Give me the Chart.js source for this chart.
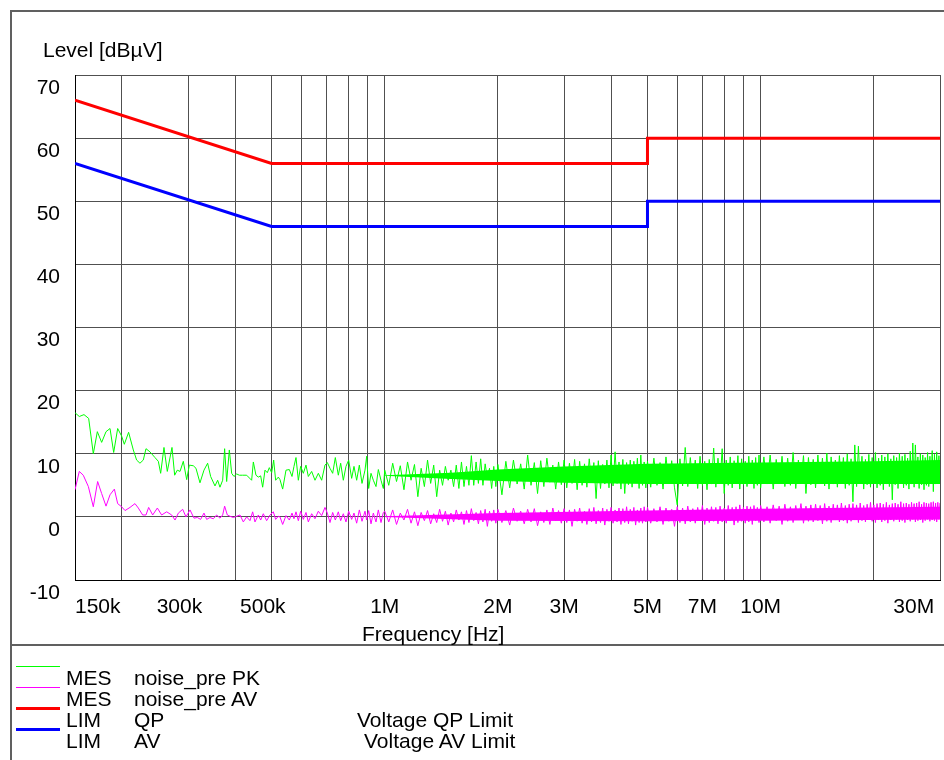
<!DOCTYPE html>
<html>
<head>
<meta charset="utf-8">
<script src="https://cdn.jsdelivr.net/npm/chart.js@4.4.1/dist/chart.umd.min.js"></script>
<style>
  body { margin: 0; background: #fff; }
  #wrap { position: relative; width: 944px; height: 760px; overflow: hidden; background: #fff;
          font-family: 'Liberation Sans', Arial, sans-serif; font-size: 21px; line-height: 21px; color: #000; }
  #wrap canvas { position: absolute; left: 0; top: 0; }
  .rule { position: absolute; background: #606060; }
  .txt { position: absolute; white-space: pre; }
  .key { position: absolute; left: 16px; width: 44px; }
</style>
</head>
<body>
<div id="wrap">
  <!-- canvas is a bit wider than the page: the x labels ask for 15px right padding -->
  <canvas id="chartEmi" width="955" height="760"></canvas>
  <div class="rule" style="left:10px;top:10px;width:934px;height:2px"></div>
  <div class="rule" style="left:10px;top:10px;width:2px;height:750px"></div>
  <div class="rule" style="left:10px;top:644px;width:934px;height:2px"></div>

  <div class="txt" style="left:43px;top:39px">Level [dBµV]</div>
  <div class="txt" style="left:362px;top:623px">Frequency [Hz]</div>

  <div class="key" style="top:666px;height:1px;background:#00ff00"></div>
  <div class="key" style="top:687px;height:1px;background:#ff00ff"></div>
  <div class="key" style="top:707px;height:3px;background:#ff0000"></div>
  <div class="key" style="top:728px;height:3px;background:#0000ff"></div>

  <div class="txt" style="left:66px;top:667px">MES</div>
  <div class="txt" style="left:134px;top:667px">noise_pre PK</div>
  <div class="txt" style="left:66px;top:688px">MES</div>
  <div class="txt" style="left:134px;top:688px">noise_pre AV</div>
  <div class="txt" style="left:66px;top:709px">LIM</div>
  <div class="txt" style="left:134px;top:709px">QP</div>
  <div class="txt" style="left:357px;top:709px">Voltage QP Limit</div>
  <div class="txt" style="left:66px;top:730px">LIM</div>
  <div class="txt" style="left:134px;top:730px">AV</div>
  <div class="txt" style="left:364px;top:730px">Voltage AV Limit</div>
</div>

<script>
// limit lines (Hz / dBµV)
const limitFreq = [150e3, 500e3, 5e6, 5e6, 30e6];
const qpLimit = [66, 56, 56, 60, 60];
const avLimit = [56, 46, 46, 50, 50];

// x axis: grid lines and labelled ticks
const gridFreq = [150e3, 200e3, 300e3, 400e3, 500e3, 600e3, 700e3, 800e3, 900e3,
  1e6, 2e6, 3e6, 4e6, 5e6, 6e6, 7e6, 8e6, 9e6, 10e6, 20e6, 30e6];
const tickFreq = [150e3, 300e3, 500e3, 1e6, 2e6, 3e6, 5e6, 7e6, 10e6, 30e6];
const tickText = ['150k', '300k', '500k', '1M', '2M', '3M', '5M', '7M', '10M', '30M'];

// PK trace below 530 kHz (kHz / dBµV)
const lowPkFreq = [150, 154, 158.5, 163.1, 167.8, 172, 176.6, 181.4, 185.9, 190.1,
  194.8, 199.6, 202.9, 208.3, 214.4, 218.8, 223.3, 227.9, 231.7, 237.4,
  244.8, 249.9, 253.5, 258.7, 264, 271.7, 276.2, 280.7, 285.4, 291.2,
  297.3, 302.1, 309.6, 314.7, 322.5, 330.5, 338, 344.3, 353.6, 359.4,
  364.5, 370.6, 375.1, 379.8, 386, 391.6, 397.2, 403.8, 410.4, 418.9,
  429.3, 442.6, 447.2, 454.5, 461.1, 467.7, 473.5, 480.3, 487.2, 493.2,
  500.3, 506.5, 512.7, 521.2, 526.5];
const lowPkLevel = [16.5, 15.9, 16.2, 15.6, 10.0, 13.5, 11.8, 13.5, 14.0, 10.2,
  14.0, 12.8, 11.5, 13.4, 10.6, 9.0, 8.5, 9.0, 10.8, 10.3,
  9.4, 8.8, 6.9, 11.0, 7.2, 11.0, 6.6, 7.4, 7.2, 8.8,
  5.9, 8.2, 8.1, 7.7, 5.4, 7.4, 8.5, 6.4, 4.9, 5.8,
  4.7, 5.8, 10.8, 5.6, 10.6, 6.9, 6.4, 6.8, 6.6, 6.6,
  6.6, 5.8, 8.7, 6.6, 6.3, 6.5, 4.7, 7.4, 7.0, 7.8,
  7.0, 9.0, 5.8, 6.3, 5.9];

// AV trace below 530 kHz (kHz / dBµV)
const lowAvFreq = [150, 154, 157.8, 162.8, 167.8, 172.3, 176.6, 181.4, 185.9, 190.9,
  194.8, 199.6, 203.8, 210.1, 216.6, 221.1, 227, 231.7, 235.5, 241.4,
  248.4, 255, 263, 271.2, 276.8, 282.5, 290.1, 296, 303.4, 310.9,
  317.3, 323.8, 330.5, 336, 342.9, 350, 357.2, 364.5, 370.6, 375.1,
  381.3, 387.6, 395.6, 403.8, 412.1, 420.6, 429.3, 438.1, 445.3, 451.7,
  461.1, 467.7, 475.4, 485.2, 495.2, 505.4, 512.7, 521.2, 526.5];
const lowAvLevel = [4.3, 7.2, 6.6, 4.8, 1.6, 5.6, 3.7, 1.7, 3.5, 4.4,
  2.1, 1.6, 1.0, 1.5, 2.1, 1.4, 0.3, 0.3, 1.5, 0.3,
  1.4, 0.3, 0.8, 0.3, -0.5, 0.6, 1.2, 0.0, 1.1, -0.2,
  -0.1, -0.4, 0.6, -0.4, -0.1, -0.3, 0.3, -0.2, 0.3, 1.7,
  0.3, 0.1, -0.1, 0.1, 0.3, -0.8, 0.0, -0.6, 0.8, -0.8,
  0.3, -0.5, 0.5, -0.6, 0.3, 0.8, -0.4, 0.1, 0.0];

// 530 kHz .. 1 MHz (kHz / dBµV)
const midFreq = [535.2, 546.2, 557.5, 566.7, 573.6, 580.7, 589.1, 597.5, 607.4, 617.4,
  626.3, 639.2, 652.4, 665.9, 679.6, 693.6, 703.6, 715.2, 727, 738.9,
  752.6, 763.5, 776, 788.8, 801.8, 816.7, 828.4, 842.1, 856, 870.1,
  886.2, 895.3, 906.3, 919.4, 932.6, 948, 961.6, 977.5, 991.5];
const midPkLevel = [4.4, 7.4, 7.5, 6.4, 8.0, 9.4, 5.8, 8.0, 6.9, 8.2,
  6.4, 7.2, 5.8, 6.9, 5.8, 8.2, 8.6, 7.7, 6.9, 9.4,
  6.6, 8.5, 5.8, 8.0, 9.0, 6.1, 8.0, 5.8, 8.2, 5.3,
  7.4, 9.6, 4.5, 6.9, 5.8, 4.8, 7.5, 5.8, 4.5];
const midAvLevel = [-1.2, 0.2, -0.5, 0.6, -0.3, 0.8, -0.6, 0.9, -0.4, 0.7,
  -0.8, 0.5, -0.3, 0.9, 0.2, 1.5, 0.6, -0.9, 0.7, -0.5,
  0.8, -0.6, 0.5, -0.8, 0.9, -0.4, 0.6, -1.0, 1.1, -0.7,
  0.9, -0.5, 1.0, -1.1, 0.6, -0.8, 1.1, -0.9, 0.7];

// 1 MHz .. 30 MHz (MHz / dBµV)
const sweepFreq = [
  1, 1.025, 1.05, 1.075, 1.1, 1.125, 1.15, 1.175, 1.2, 1.225,
  1.25, 1.275, 1.3, 1.325, 1.35, 1.375, 1.4, 1.425, 1.45, 1.475,
  1.5, 1.525, 1.55, 1.575, 1.6, 1.625, 1.65, 1.675, 1.7, 1.725,
  1.75, 1.775, 1.8, 1.825, 1.85, 1.875, 1.9, 1.925, 1.95, 1.975,
  2, 2.05, 2.1, 2.15, 2.2, 2.25, 2.3, 2.35, 2.4, 2.45,
  2.5, 2.55, 2.6, 2.65, 2.7, 2.75, 2.8, 2.85, 2.9, 2.95,
  3, 3.05, 3.1, 3.15, 3.2, 3.25, 3.3, 3.35, 3.4, 3.45,
  3.5, 3.55, 3.6, 3.65, 3.7, 3.75, 3.8, 3.85, 3.9, 3.95,
  4, 4.05, 4.1, 4.15, 4.2, 4.25, 4.3, 4.35, 4.4, 4.45,
  4.5, 4.55, 4.6, 4.65, 4.7, 4.75, 4.8, 4.85, 4.9, 4.95,
  5, 5.1, 5.2, 5.3, 5.4, 5.5, 5.6, 5.7, 5.8, 5.9,
  6, 6.1, 6.2, 6.3, 6.4, 6.5, 6.6, 6.7, 6.8, 6.9,
  7, 7.1, 7.2, 7.3, 7.4, 7.5, 7.6, 7.7, 7.8, 7.9,
  8, 8.1, 8.2, 8.3, 8.4, 8.5, 8.6, 8.7, 8.8, 8.9,
  9, 9.1, 9.2, 9.3, 9.4, 9.5, 9.6, 9.7, 9.8, 9.9,
  10, 10.2, 10.4, 10.6, 10.8, 11, 11.2, 11.4, 11.6, 11.8,
  12, 12.2, 12.4, 12.6, 12.8, 13, 13.2, 13.4, 13.6, 13.8,
  14, 14.2, 14.4, 14.6, 14.8, 15, 15.2, 15.4, 15.6, 15.8,
  16, 16.2, 16.4, 16.6, 16.8, 17, 17.2, 17.4, 17.6, 17.8,
  18, 18.2, 18.4, 18.6, 18.8, 19, 19.2, 19.4, 19.6, 19.8,
  20, 20.2, 20.4, 20.6, 20.8, 21, 21.2, 21.4, 21.6, 21.8,
  22, 22.2, 22.4, 22.6, 22.8, 23, 23.2, 23.4, 23.6, 23.8,
  24, 24.2, 24.4, 24.6, 24.8, 25, 25.2, 25.4, 25.6, 25.8,
  26, 26.2, 26.4, 26.6, 26.8, 27, 27.2, 27.4, 27.6, 27.8,
  28, 28.2, 28.4, 28.6, 28.8, 29, 29.2, 29.4, 29.6, 29.8,
  30];
const sweepPkLevel = [
  7.4, 5.0, 8.5, 5.6, 8.1, 4.3, 8.7, 5.8, 8.3, 3.2,
  7.7, 4.8, 9.0, 5.3, 8.2, 3.2, 7.4, 5.0, 8.0, 5.8,
  7.4, 4.8, 8.2, 4.5, 8.7, 4.8, 8.0, 5.0, 9.7, 5.0,
  8.7, 5.3, 9.2, 5.0, 8.4, 6.1, 7.7, 4.5, 8.0, 4.8,
  8.3, 3.5, 8.8, 4.6, 9.0, 5.2, 8.4, 4.4, 9.8, 5.0,
  8.6, 3.7, 8.9, 4.8, 9.3, 5.5, 8.2, 4.4, 8.7, 5.1,
  9.0, 4.6, 8.5, 5.3, 9.1, 4.3, 8.8, 5.0, 8.4, 4.7,
  9.2, 5.4, 8.6, 2.9, 8.9, 4.5, 8.3, 5.2, 9.0, 4.6,
  9.8, 4.9, 10.3, 5.3, 8.7, 4.4, 9.1, 3.7, 8.6, 5.1,
  9.0, 4.7, 8.8, 5.5, 9.3, 4.5, 9.8, 5.0, 8.7, 4.6,
  8.8, 4.7, 9.3, 5.0, 8.6, 4.4, 9.5, 5.3, 8.9, 4.6,
  1.9, 9.2, 4.9, 11.0, 4.8, 9.4, 5.4, 9.0, 4.5, 9.6,
  5.0, 8.8, 4.3, 9.1, 5.2, 10.9, 4.7, 9.3, 5.3, 10.8,
  3.7, 9.0, 5.0, 9.5, 4.6, 8.9, 5.4, 9.7, 4.4, 9.2,
  5.1, 8.8, 4.8, 9.6, 5.5, 9.0, 4.5, 9.4, 5.0, 9.8,
  4.6, 9.5, 5.2, 9.8, 4.4, 9.1, 5.5, 9.6, 4.8, 9.3,
  5.0, 10.2, 4.5, 9.0, 5.3, 9.7, 3.7, 9.4, 5.1, 9.1,
  4.6, 9.8, 5.4, 9.3, 4.9, 10.1, 4.4, 9.5, 5.2, 9.0,
  4.7, 9.7, 5.5, 9.4, 4.5, 10.0, 5.0, 9.2, 2.4, 11.4,
  4.8, 11.2, 5.3, 9.6, 4.4, 9.1, 5.1, 9.9, 4.7, 9.4,
  5.4, 10.2, 4.6, 9.3, 5.0, 9.8, 4.3, 9.5, 5.2, 10.0,
  4.8, 9.2, 2.7, 9.7, 5.1, 9.4, 4.5, 10.1, 5.3, 9.6,
  4.6, 9.9, 5.0, 9.3, 4.4, 10.4, 5.2, 11.7, 4.7, 11.4,
  5.4, 9.5, 4.5, 10.0, 5.1, 9.8, 4.3, 9.4, 5.0, 10.2,
  4.8, 9.6, 5.3, 10.5, 4.0, 9.9, 5.2, 10.3, 5.5, 9.7,
  5.5];
const sweepAvLevel = [
  0.9, -0.8, 1.1, -1.2, 0.6, -0.5, 1.2, -1.0, 0.8, -1.4,
  0.7, -0.6, 1.0, -1.1, 0.5, -0.9, 1.2, -0.7, 0.9, -1.3,
  0.6, -0.8, 1.1, -0.5, 0.8, -1.2, 1.0, -0.9, 1.3, -0.6,
  0.7, -1.1, 1.0, -0.8, 1.2, -1.5, 0.9, -0.7, 1.1, -1.0,
  1.2, -0.9, 1.0, -1.3, 1.4, -0.7, 0.9, -1.1, 1.2, -0.8,
  1.3, -1.4, 0.8, -0.9, 1.1, -1.2, 1.4, -0.6, 1.0, -1.0,
  1.3, -0.9, 1.1, -1.5, 1.2, -0.7, 1.4, -1.0, 0.9, -1.2,
  1.3, -0.8, 1.5, -1.1, 1.0, -0.9, 1.4, -1.3, 1.2, -0.7,
  1.5, -1.0, 1.1, -0.8, 1.4, -1.2, 1.3, -0.9, 1.6, -1.1,
  1.2, -0.7, 1.5, -1.3, 1.1, -0.9, 1.4, -1.0, 1.6, -0.8,
  1.5, -1.0, 1.3, -0.8, 1.6, -1.2, 1.4, -0.7, 1.2, -1.5,
  1.6, -0.9, 1.4, -1.1, 1.7, -0.8, 1.3, -1.0, 1.5, -0.6,
  1.8, -1.2, 1.4, -0.9, 1.6, -0.7, 1.5, -1.1, 1.7, -0.8,
  1.4, -1.0, 1.8, -0.6, 1.5, -1.3, 1.6, -0.9, 1.9, -0.7,
  1.5, -1.0, 1.7, -0.8, 1.6, -1.2, 1.8, -0.6, 1.5, -0.9,
  1.8, -0.8, 1.6, -1.0, 1.9, -0.6, 1.7, -1.2, 2.0, -0.7,
  1.6, -0.9, 1.8, -0.5, 2.1, -1.0, 1.7, -0.7, 1.9, -0.8,
  2.0, -0.6, 1.8, -1.1, 2.1, -0.7, 1.7, -0.9, 2.0, -0.5,
  1.9, -0.8, 2.2, -0.6, 1.8, -1.0, 2.0, -0.7, 2.1, -0.5,
  1.9, -0.9, 2.2, -0.6, 1.8, -0.8, 2.0, -0.4, 2.3, -0.7,
  1.9, -0.9, 2.1, -0.5, 2.2, -0.8, 2.0, -0.6, 2.3, -1.0,
  1.9, -0.5, 2.1, -0.7, 2.2, -0.4, 2.0, -0.8, 2.4, -0.6,
  2.1, -0.9, 2.2, -0.5, 2.0, -0.7, 2.3, -0.4, 2.1, -0.8,
  2.2, -0.6, 2.4, -0.5, 2.0, -0.9, 2.3, -0.6, 2.2, -0.4,
  2.1, -0.7, 2.3, -0.5, 2.4, -0.6, 2.2, -0.8, 2.3, -0.4,
  2.2];

// dense core of the two traces above 1 MHz, where the sweep points merge (MHz / dBµV)
const pkCoreFreq = [1, 1.5, 2, 3, 5, 10, 20, 30];
const pkCoreTop = [6.6, 7.0, 7.5, 8.0, 8.4, 8.6, 8.8, 9.0];
const pkCoreBottom = [6.5, 6.0, 5.7, 5.4, 5.2, 5.2, 5.2, 5.2];
const avCoreFreq = [1, 2, 5, 10, 30];
const avCoreTop = [0.1, 0.6, 1.0, 1.3, 1.6];
const avCoreBottom = [0.0, -0.6, -0.7, -0.6, -0.4];

const fontSpec = { family: "'Liberation Sans', Arial, sans-serif", size: 21 };

function points(freqs, levels, scale) {
  return freqs.map((f, i) => ({ x: f * scale, y: levels[i] }));
}

const pkData = points(lowPkFreq, lowPkLevel, 1e3)
  .concat(points(midFreq, midPkLevel, 1e3), points(sweepFreq, sweepPkLevel, 1e6));
const avData = points(lowAvFreq, lowAvLevel, 1e3)
  .concat(points(midFreq, midAvLevel, 1e3), points(sweepFreq, sweepAvLevel, 1e6));

const ctx = document.getElementById('chartEmi');
new Chart(ctx, {
  type: 'scatter',
  data: {
    datasets: [
      { label: 'PK core', data: points(pkCoreFreq, pkCoreTop, 1e6), borderWidth: 0,
        fill: '+1', backgroundColor: '#00ff00' },
      { label: 'PK core low', data: points(pkCoreFreq, pkCoreBottom, 1e6), borderWidth: 0 },
      { label: 'AV core', data: points(avCoreFreq, avCoreTop, 1e6), borderWidth: 0,
        fill: '+1', backgroundColor: '#ff00ff' },
      { label: 'AV core low', data: points(avCoreFreq, avCoreBottom, 1e6), borderWidth: 0 },
      { label: 'MES noise_pre PK', data: pkData, borderColor: '#00ff00', borderWidth: 1 },
      { label: 'MES noise_pre AV', data: avData, borderColor: '#ff00ff', borderWidth: 1 },
      { label: 'LIM QP', data: points(limitFreq, qpLimit, 1), borderColor: '#ff0000', borderWidth: 3 },
      { label: 'LIM AV', data: points(limitFreq, avLimit, 1), borderColor: '#0000ff', borderWidth: 3 }
    ].map(ds => Object.assign({ showLine: true, pointRadius: 0, tension: 0, fill: false }, ds))
  },
  options: {
    responsive: false,
    animation: false,
    layout: { padding: { left: 0, top: 75, right: 0, bottom: 140 } },
    plugins: { legend: { display: false }, tooltip: { enabled: false } },
    scales: {
      x: {
        type: 'logarithmic',
        min: 150e3,
        max: 30e6,
        afterBuildTicks: axis => { axis.ticks = gridFreq.map(v => ({ value: v })); },
        afterFit: axis => { axis.height = 40; },
        grid: { color: '#505050', drawTicks: false },
        border: { color: '#000' },
        ticks: {
          autoSkip: false, maxRotation: 0, minRotation: 0, align: 'inner',
          padding: 15, color: '#000', font: fontSpec,
          callback: (v) => {
            const k = tickFreq.indexOf(v);
            if (k < 0) return '';
            const t = tickText[k];
            if (k === tickText.length - 1) return t + ' ';
            return (k > 0 && t.endsWith('k')) ? t + '   ' : t;
          }
        }
      },
      y: {
        min: -10,
        max: 70,
        afterFit: axis => { axis.width = 75; },
        grid: { color: '#505050', drawTicks: false },
        border: { color: '#000' },
        ticks: { stepSize: 10, padding: 15, labelOffset: 13, color: '#000', font: fontSpec }
      }
    }
  }
});
</script>
</body>
</html>
